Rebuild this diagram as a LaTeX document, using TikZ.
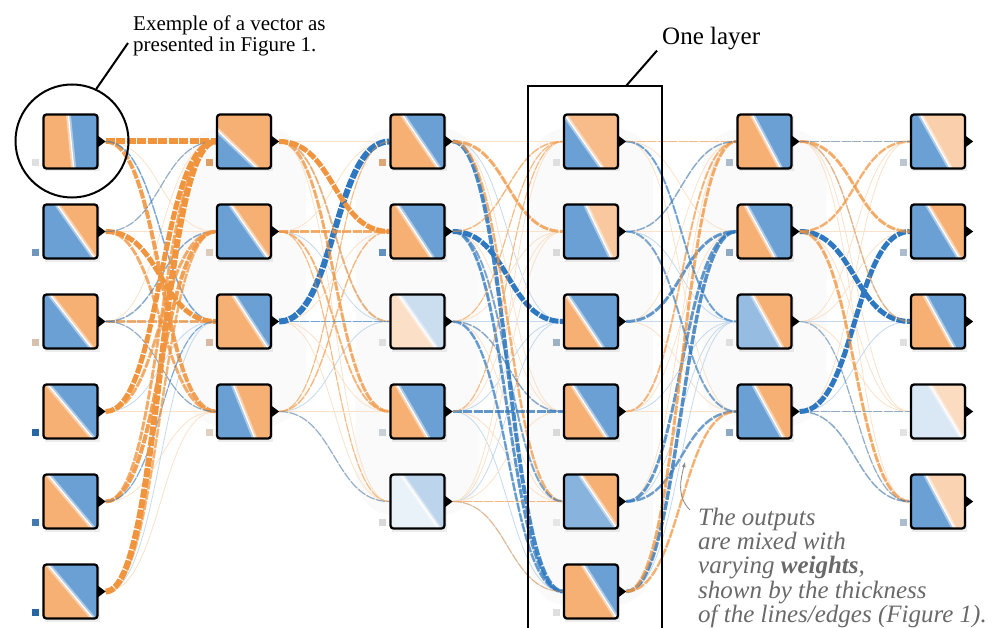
\documentclass[tikz,border=0pt]{standalone}
\usepackage{fontspec}
\setmainfont{Liberation Serif}
\usepackage{tikz}
\usetikzlibrary{positioning,backgrounds,calc}
\definecolor{HeatOrange}{RGB}{246,176,116}
\definecolor{HeatBlue}{RGB}{106,160,212}
\definecolor{LinkOrange}{RGB}{240,148,62}
\definecolor{LinkBlue}{RGB}{45,120,192}
\definecolor{NoteGray}{RGB}{105,105,105}
\tikzset{>=latex}
\tikzset{
  unit/.style={draw=black, line width=2.3pt, rounded corners=3pt, minimum size=54pt, inner sep=0pt},
  wo/.style={draw=LinkOrange, dash pattern=on 9pt off 1.5pt},
  wb/.style={draw=LinkBlue, dash pattern=on 9pt off 1.5pt},
  faint/.style={line width=0.8pt},
  haze/.style={fill=gray!4, rounded corners=40pt},
}
% one neuron: name, x, y, boundary at top/bottom, left colour, right colour, bias colour
\newcommand{\heatnode}[8]{%
  \fill[black, opacity=0.07] (#2-26,#3-25) rectangle (#2+29,#3+30);
  \begin{scope}
    \clip[rounded corners=3pt] (#2-27,#3-27) rectangle (#2+27,#3+27);
    \fill[#7] (#2-27,#3-27) rectangle (#2+27,#3+27);
    \fill[#6] (#2-140,#3-27) -- ({#2-27+54*(#4)},#3-27) -- ({#2-27+54*(#5)},#3+27) -- (#2-140,#3+27) -- cycle;
    \draw[white, line width=5pt, opacity=0.45] ({#2-27+54*(#4)},#3-27) -- ({#2-27+54*(#5)},#3+27);
    \draw[white, line width=1.3pt] ({#2-27+54*(#4)},#3-27) -- ({#2-27+54*(#5)},#3+27);
  \end{scope}
  \node[unit] at (#2,#3) (#1) {};
  \fill[black] (#1.east) ++(-1,-6) -- ++(8,6) -- ++(-8,6) -- cycle;
  \fill[#8] (#2-38.5,#3+17.5) rectangle ++(7,7);
}

\begin{document}
\begin{tikzpicture}[x=1pt,y=-1pt]
    \useasboundingbox (0,0) rectangle (1000,628);
    % neurons, column by column
    \foreach \n/\x/\y/\t/\b/\lc/\rc/\bc in {
        a1/70.5/141.5/0.46/0.56/HeatOrange/HeatBlue/gray!25,
        a2/70.5/231.5/0.25/0.95/HeatBlue/HeatOrange/HeatBlue!70!gray,
        a3/70.5/321.5/0.12/0.90/HeatBlue/HeatOrange/HeatOrange!50!gray!60,
        a4/70.5/411.5/0.08/0.92/HeatOrange/HeatBlue/LinkBlue!85!black,
        a5/70.5/501.5/0.08/0.92/HeatOrange/HeatBlue/LinkBlue!75!gray,
        a6/70.5/591.5/0.08/0.92/HeatOrange/HeatBlue/LinkBlue!85!black,
        b1/244/141.5/-0.30/0.75/HeatBlue/HeatOrange/HeatOrange!90!black,
        b2/244/231.5/0.25/0.95/HeatBlue/HeatOrange/HeatOrange!50!gray!50,
        b3/244/321.5/0.30/0.95/HeatOrange/HeatBlue/HeatOrange!60!gray!70,
        b4/244/411.5/0.30/0.70/HeatBlue/HeatOrange/HeatOrange!50!gray!45,
        c1/417.5/141.5/0.22/0.90/HeatOrange/HeatBlue/HeatOrange!80!gray,
        c2/417.5/231.5/0.12/0.78/HeatOrange/HeatBlue/HeatBlue!90!black,
        c3/417.5/321.5/0.15/0.85/HeatOrange!40/HeatBlue!35/gray!25,
        c4/417.5/411.5/0.12/0.70/HeatOrange/HeatBlue/HeatBlue!30!gray!40,
        c5/417.5/501.5/0.20/0.90/HeatBlue!15/HeatBlue!45/gray!30,
        d1/591/141.5/0.01/0.71/HeatBlue/HeatOrange!85/gray!25,
        d2/591/231.5/0.40/0.88/HeatBlue/HeatOrange!70/gray!30,
        d3/591/321.5/0.05/0.72/HeatOrange/HeatBlue/HeatBlue!50!gray!70,
        d4/591/411.5/0.15/0.80/HeatOrange/HeatBlue/gray!30,
        d5/591/501.5/0.30/0.98/HeatBlue!80/HeatOrange/gray!20,
        d6/591/591.5/0.35/0.98/HeatOrange/HeatBlue/gray!25,
        e1/764.5/141.5/0.27/0.80/HeatOrange/HeatBlue/HeatBlue!50!gray!60,
        e2/764.5/231.5/0.15/0.70/HeatOrange/HeatBlue/HeatBlue!60!gray!80,
        e3/764.5/321.5/0.27/0.83/HeatBlue!70/HeatOrange/gray!25,
        e4/764.5/411.5/0.30/0.85/HeatBlue/HeatOrange/HeatBlue!60!gray!80,
        f1/938/141.5/0.17/0.73/HeatBlue/HeatOrange!60/HeatBlue!40!gray!50,
        f2/938/231.5/0.30/0.90/HeatBlue/HeatOrange/HeatBlue!50!gray!60,
        f3/938/321.5/0.25/0.80/HeatOrange/HeatBlue/gray!25,
        f4/938/411.5/0.35/0.95/HeatBlue!25/HeatOrange!45/gray!22,
        f5/938/501.5/0.27/0.80/HeatBlue/HeatOrange!55/HeatBlue!50!gray!60}
        {\heatnode{\n}{\x}{\y}{\t}{\b}{\lc}{\rc}{\bc}}
    \begin{scope}[on background layer]
        % grey haze behind each hidden column
        \foreach \x/\last in {244/4,417.5/5,591/6,764.5/4}
            \fill[haze] (\x-62,128) rectangle (\x+62,{141.5+90*(\last-1)+14});
        % every link, faint
        \foreach \s/\ns/\t/\nt in {a/6/b/4,b/4/c/5,c/5/d/6,d/6/e/4,e/4/f/5}
            \foreach \i in {1,...,\ns}
                \foreach \j in {1,...,\nt} {
                    \pgfmathtruncatemacro{\k}{mod(\i*3+\j*7,3)}
                    \ifnum\k=0 \def\fc{LinkBlue!28}\else\def\fc{LinkOrange!28}\fi
                    \draw[faint, draw=\fc] ([xshift=7pt]\s\i.east) .. controls +(56,0) and +(-56,0) .. (\t\j.west);
                }
        % links with a large weight
        \foreach \s/\t/\c/\w in {
            a1/b1/wo/6, a1/b4/wo/4, a1/b3/wb/1.5, a2/b3/wo/5, a2/b4/wo/3, a2/b1/wb/1.2,
            a3/b3/wo/3, a3/b2/wb/1.5, a3/b4/wb/1.2, a4/b1/wo/5, a4/b2/wo/3, a5/b1/wo/3,
            a5/b2/wo/4, a5/b3/wb/1.2, a6/b1/wo/6, a6/b2/wo/2.5,
            b3/c1/wb/6, b1/c2/wo/5, b2/c2/wo/3, b1/c4/wo/3, b1/c3/wo/2, b2/c4/wo/2,
            b4/c2/wo/1.5, b3/c3/wb/1.5, b4/c5/wb/1.2, b2/c5/wo/1.2, b4/c1/wo/1.2,
            c2/d3/wb/5, c1/d6/wb/4, c2/d6/wb/3, c1/d2/wo/3, c1/d5/wo/2.5, c2/d5/wb/2,
            c4/d4/wb/3, c3/d6/wb/2.5, c5/d5/wo/1.5, c5/d6/wo/1.2, c4/d1/wo/1.2,
            c3/d1/wo/1.2, c2/d1/wo/1.5, c3/d4/wb/1.5,
            d3/e2/wb/3, d5/e2/wb/3, d6/e2/wb/3.5, d5/e4/wb/2.5, d6/e4/wo/2.5, d6/e1/wo/3,
            d4/e1/wo/2, d1/e3/wb/2, d2/e4/wb/2, d1/e1/wo/1.2, d2/e1/wb/1.5,
            e2/f3/wb/5, e4/f2/wb/5, e1/f2/wo/3, e2/f1/wo/2.5, e2/f5/wo/3, e1/f3/wo/1.5,
            e4/f4/wb/1.2, e4/f5/wb/1.5, e3/f5/wb/1.2, e1/f1/wb/1} {
            \pgfmathsetmacro{\op}{min(1,0.35+0.13*\w)}
            \draw[\c, line width=\w pt, draw opacity=\op] ([xshift=7pt]\s.east) .. controls +(56,0) and +(-56,0) .. (\t.west);
        }
    \end{scope}
    % annotations
    \node[circle, draw, line width=2pt, minimum size=113pt, inner sep=0pt] at (72,141) (ring) {};
    \node[anchor=north west, align=left, inner sep=0pt, font=\fontsize{21}{20.5}\selectfont] at (133,16) (vecnote) {Exemple of a vector as\\presented in Figure 1.};
    \coordinate (vectip) at (128,43);
    \draw[line width=2pt] (ring.65) -- (vectip);
    \draw[line width=2.2pt] (528,640) -- (528,86) coordinate (boxl) -- (662,86) coordinate (boxr) -- (662,640);
    \node[anchor=base west, inner sep=0pt, font=\fontsize{25}{25}\selectfont] at (662,45) (layernote) {One layer};
    \coordinate (boxtop) at (626,86);
    \draw[line width=2pt] (boxtop) -- ([xshift=-5pt]layernote.south west);
    \node[anchor=north west, align=left, inner sep=0pt, text=NoteGray, font=\fontsize{25}{24.2}\selectfont\itshape] at (698,508) (outnote)
        {The outputs\\are mixed with\\varying \textbf{weights},\\shown by the thickness\\of the lines/edges (Figure 1).};
    \coordinate (outtip) at (685,462);
    \draw[->, NoteGray!80, line width=0.8pt] ([xshift=-8pt,yshift=-2pt]outnote.north west) .. controls +(-14,-14) and +(-4,16) .. (outtip);
\end{tikzpicture}
\end{document}
